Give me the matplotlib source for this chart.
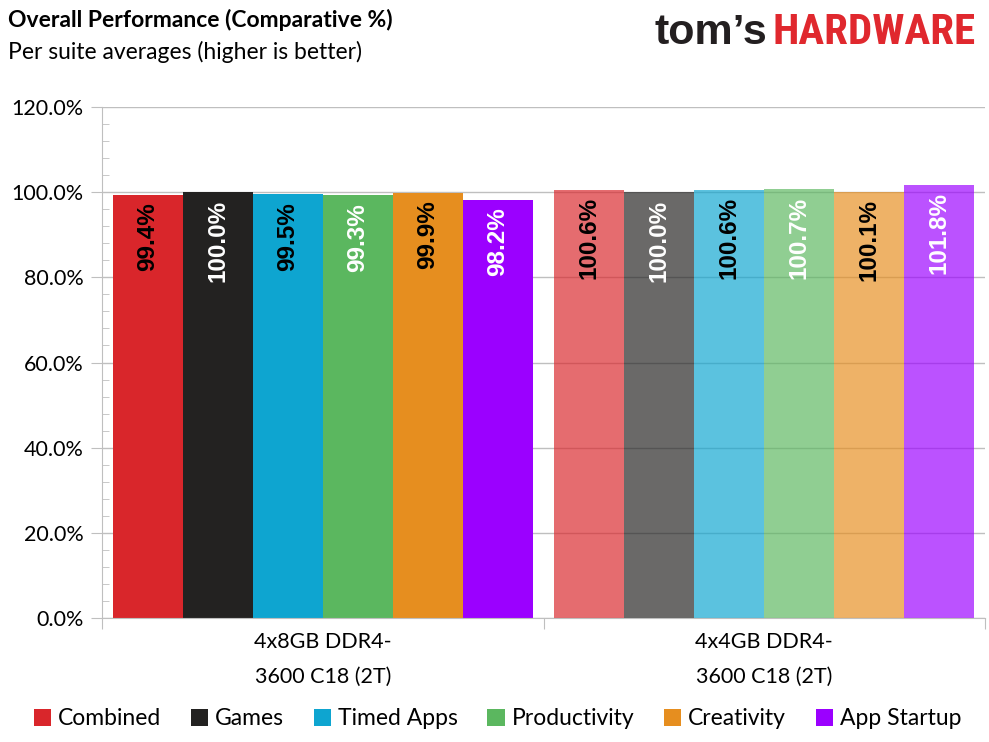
import numpy as np
import matplotlib
matplotlib.use("Agg")
import matplotlib.pyplot as plt
from matplotlib.ticker import MultipleLocator, FixedLocator, NullFormatter

plt.rcParams['font.family'] = ['Lato', 'DejaVu Sans']

categories = ["4x8GB DDR4-\n3600 C18 (2T)", "4x4GB DDR4-\n3600 C18 (2T)"]
series = ["Combined", "Games", "Timed Apps", "Productivity", "Creativity", "App Startup"]
values_8gb = [99.4, 100.0, 99.5, 99.3, 99.9, 98.2]
values_4gb = [100.6, 100.0, 100.6, 100.7, 100.1, 101.8]
colors = ["#d9262b", "#232221", "#0ea5d0", "#5bb75f", "#e68e1f", "#9b00ff"]
label_colors = ["black", "white", "black", "white", "black", "white"]

fig = plt.figure(figsize=(9.89, 7.42), dpi=100)
ax = fig.add_axes([0.1031, 0.1671, 0.8929, 0.6887])

width = 0.1586
grey = "#bfbfbf"
handles = []
for i, name in enumerate(series):
    x_off = (i - 2.5) * width
    vals = [values_8gb[i], values_4gb[i]]
    for j, v in enumerate(vals):
        alpha = 1.0 if j == 0 else 0.68
        b = ax.bar(j + x_off, v, width, color=colors[i], alpha=alpha, zorder=2,
                   label=name if j == 0 else None)
        if j == 0:
            handles.append(b)
        ax.text(j + x_off, v - 1.8, f"{v:.1f}%", rotation=90, ha='center', va='top',
                color=label_colors[i], fontsize=17.5, fontweight='bold',
                family=['Liberation Sans', 'DejaVu Sans'], zorder=3)

ax.set_xlim(-0.5, 1.5)
ax.set_ylim(0, 120)
ax.yaxis.set_major_locator(MultipleLocator(20))
ax.yaxis.set_minor_locator(MultipleLocator(4))
ax.set_yticklabels([f"{t:.1f}%" for t in ax.get_yticks()])
ax.tick_params(axis='y', which='major', direction='out', length=8, color=grey,
               labelsize=15.5, pad=5)
ax.tick_params(axis='y', which='minor', direction='in', length=5, color=grey)
ax.yaxis.grid(True, which='major', color=grey, lw=1, zorder=0)
ax.set_axisbelow(True)

ax.xaxis.set_major_locator(FixedLocator([-0.5, 0.5, 1.5]))
ax.xaxis.set_major_formatter(NullFormatter())
ax.xaxis.set_minor_locator(FixedLocator([0, 1]))
ax.set_xticklabels(categories, minor=True)
ax.tick_params(axis='x', which='major', direction='out', length=8, color=grey)
ax.tick_params(axis='x', which='minor', length=0, labelsize=15.5, pad=10)
for lab in ax.get_xticklabels(minor=True):
    lab.set_linespacing(1.95)

for side in ['top', 'right']:
    ax.spines[side].set_visible(False)
for side in ['left', 'bottom']:
    ax.spines[side].set_color(grey)

fig.legend(handles=handles, labels=series, loc='center', bbox_to_anchor=(0.503, 0.031),
           ncol=6, frameon=False, fontsize=16.5, handlelength=0.75, handleheight=0.75,
           handletextpad=0.3, columnspacing=1.3)

fig.text(0.008, 0.973, "Overall Performance (Comparative %)", fontsize=16.5,
         fontweight='bold', va='center', ha='left')
fig.text(0.008, 0.93, "Per suite averages (higher is better)", fontsize=16.5,
         va='center', ha='left')

fig.text(0.776, 0.956, "tom\u2019s", fontsize=31, fontweight='bold',
         color="#231f20", va='center', ha='right', family=['Liberation Sans', 'DejaVu Sans'])
fig.text(0.986, 0.956, "HARDWARE", fontsize=31, fontweight='bold',
         color="#e0282e", va='center', ha='right',
         family=['Liberation Sans Narrow', 'Roboto Condensed', 'Liberation Sans'])

fig.savefig("out.png", dpi=100)
